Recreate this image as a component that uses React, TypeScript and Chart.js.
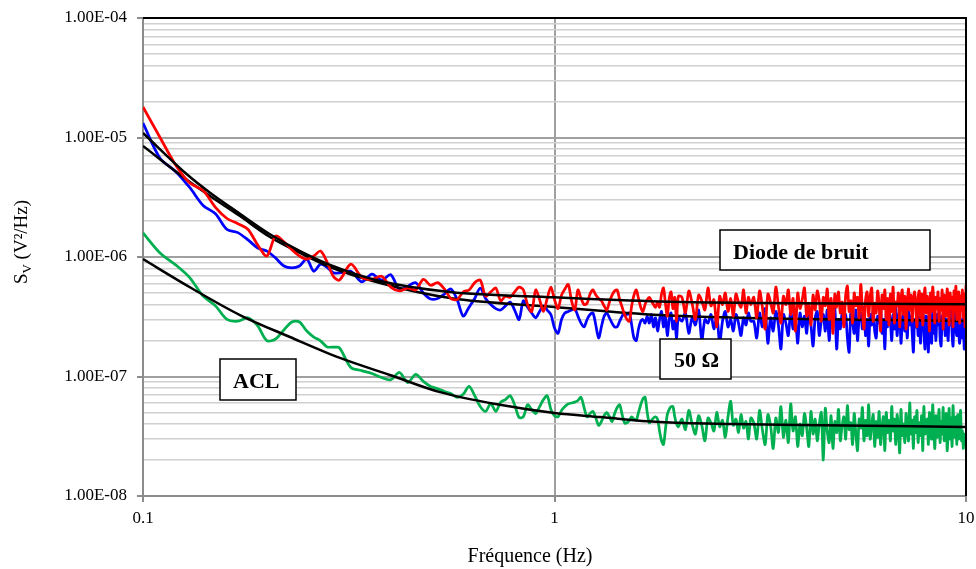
import React, { useEffect, useRef } from 'react';
import { Chart, registerables } from 'chart.js';
Chart.register(...registerables);

// ---- Frequency grid (Hz) ----
const FREQ_A = [0.10,0.11,0.12,0.13,0.14,0.15,0.16,0.17,0.18,0.19,0.20,0.21,0.22,0.23,0.24,0.25,0.26,0.27,0.28,0.29,0.30];
const FREQ_B = [0.32,0.34,0.36,0.38,0.40,0.42,0.44,0.46,0.48,0.50,0.52,0.54,0.56,0.58,0.60,0.62,0.64,0.66,0.68,0.70,
  0.72,0.74,0.76,0.78,0.80,0.82,0.84,0.86,0.88,0.90,0.92,0.94,0.96,0.98,1.00];
const FREQ_C = [1.02,1.04,1.06,1.08,1.10,1.12,1.14,1.16,1.18,1.20,1.22,1.24,1.26,1.28,1.30,1.32,1.34,1.36,1.38,1.40,
  1.42,1.44,1.46,1.48,1.50,1.52,1.54,1.56,1.58,1.60,1.62,1.64,1.66,1.68,1.70,1.72,1.74,1.76,1.78,1.80,
  1.82,1.84,1.86,1.88,1.90,1.92,1.94,1.96,1.98,2.00,
  2.04,2.08,2.12,2.16,2.20,2.24,2.28,2.32,2.36,2.40,2.44,2.48,2.52,2.56,2.60,
  2.64,2.68,2.72,2.76,2.80,2.84,2.88,2.92,2.96,3.00];
const FREQ_D = [3.05,3.10,3.15,3.20,3.25,3.30,3.35,3.40,3.45,3.50,
  3.55,3.60,3.65,3.70,3.75,3.80,3.85,3.90,3.95,4.00,
  4.05,4.10,4.15,4.20,4.25,4.30,4.35,4.40,4.45,4.50,
  4.55,4.60,4.65,4.70,4.75,4.80,4.85,4.90,4.95,5.00,
  5.05,5.10,5.15,5.20,5.25,5.30,5.35,5.40,5.45,5.50,
  5.55,5.60,5.65,5.70,5.75,5.80,5.85,5.90,5.95,6.00,
  6.05,6.10,6.15,6.20,6.25,6.30,6.35,6.40,6.45,6.50,
  6.55,6.60,6.65,6.70,6.75,6.80,6.85,6.90,6.95,7.00,
  7.05,7.10,7.15,7.20,7.25,7.30,7.35,7.40,7.45,7.50,
  7.55,7.60,7.65,7.70,7.75,7.80,7.85,7.90,7.95,8.00,
  8.05,8.10,8.15,8.20,8.25,8.30,8.35,8.40,8.45,8.50,
  8.55,8.60,8.65,8.70,8.75,8.80,8.85,8.90,8.95,9.00,
  9.05,9.10,9.15,9.20,9.25,9.30,9.35,9.40,9.45,9.50,
  9.55,9.60,9.65,9.70,9.75,9.80,9.85,9.90,9.95,10.00];

// ---- Diode de bruit (red), units 1e-7 V²/Hz ----
const RED_A = [180,100,59,41.6,36,26,21,19,17,12.6,10.2,15,13.4,11.5,10.2,9.6,10.2,11.2,9.1,6.9,6.4];
const RED_B = [8.7,6.8,6.5,6.9,5.6,5.2,5.5,5.3,6.5,5.8,6.1,5.4,4.5,4.4,5.1,5.3,6.1,6.4,4.7,5.1,
  5.5,4.3,4.7,4.6,5.1,5.6,5.3,4.0,3.5,5.3,4.4,3.5,4.5,5.6,4.4];
const RED_C = [3.7,4.8,5.4,5.9,4.3,3.6,5.3,4.5,4.0,4.1,4.9,5.3,4.8,4.5,4.3,3.9,3.6,4.2,4.8,5.2,
  5.3,4.4,3.8,3.3,3.0,2.9,3.9,4.8,5.3,4.5,3.8,3.5,4.0,4.4,4.6,4.3,4.0,3.8,4.2,3.8,
  4.9,5.5,4.1,3.2,4.5,5.1,3.7,4.6,2.9,4.7,
  4.6,3.4,5.2,4.1,3.0,4.8,4.3,3.6,5.5,3.9,4.4,2.6,4.7,4.0,5.0,
  3.5,4.5,3.2,4.9,4.2,3.8,5.3,3.4,4.6,4.0];
const RED_D = [4.6,3.1,5.2,3.8,2.5,4.9,4.2,3.4,5.6,3.9,
  2.8,4.7,4.0,5.3,3.3,4.5,2.4,5.0,3.7,4.4,
  5.5,3.2,4.1,2.7,4.8,3.6,5.2,4.3,2.9,4.6,
  3.9,5.4,3.0,4.5,2.3,4.9,3.8,5.1,3.4,4.2,
  2.6,4.8,5.7,3.5,4.3,2.8,5.0,3.9,4.6,3.1,
  5.9,3.6,2.5,4.4,5.1,3.2,4.7,5.5,2.9,4.1,
  3.4,5.2,4.0,2.4,4.8,3.7,5.3,3.0,4.5,2.7,
  4.9,3.5,5.6,2.8,4.2,3.9,5.0,2.6,4.4,5.3,
  3.3,4.7,2.5,4.1,5.4,3.6,4.8,2.9,4.3,5.1,
  3.8,2.6,4.6,5.2,3.1,4.9,2.7,4.4,5.5,3.4,
  4.7,3.9,2.4,5.0,3.5,5.6,4.2,2.8,4.6,3.7,
  5.1,2.9,4.5,3.6,5.3,2.5,4.8,4.0,3.2,5.4,
  4.3,2.7,5.0,3.8,4.6,2.6,5.2,3.5,5.7,3.0,
  4.4,5.1,2.8,4.7,3.6,5.3,3.1,4.9,2.6,5.8];

// ---- 50 Ω (blue), units 1e-7 V²/Hz ----
const BLUE_A = [132,67,52,38,27,23,17,16,13.9,11.9,11.2,9.8,8.4,8.1,8.4,9.6,7.6,8.7,8.2,7.4,7.35];
const BLUE_B = [7.6,6.2,7.2,6.4,7.1,5.3,5.7,6.1,5.0,4.45,4.5,4.9,5.4,4.4,3.2,3.8,4.5,5.5,4.5,4.0,
  3.7,3.6,3.9,4.2,3.6,3.0,4.3,3.8,3.4,3.1,3.5,3.9,3.6,3.3,2.55];
const BLUE_C = [2.3,3.0,3.4,3.5,3.6,3.7,3.2,2.8,2.6,3.0,3.3,3.4,2.7,2.1,2.6,3.2,3.4,3.1,2.8,2.6,
  2.6,2.9,3.2,3.4,3.3,3.4,2.7,2.1,2.0,2.5,2.9,3.0,2.8,3.2,2.8,3.3,2.6,3.1,2.4,3.0,
  3.5,2.6,3.2,2.2,3.0,3.4,2.5,2.9,2.1,3.1,
  2.9,3.4,2.3,3.1,2.7,3.6,2.0,3.0,2.8,3.3,2.5,3.2,1.9,2.9,3.5,
  2.6,3.0,2.4,3.3,2.8,2.2,3.1,2.7,3.4,2.9];
const BLUE_D = [2.9,2.1,3.4,2.6,3.7,1.9,3.1,2.4,3.5,2.7,
  1.7,3.3,2.8,2.2,3.6,2.5,3.0,1.9,3.4,2.6,
  3.2,2.3,3.8,2.7,1.8,3.1,3.5,2.2,2.9,3.3,
  2.4,3.6,2.0,3.2,2.8,3.7,1.7,3.0,2.5,3.4,
  2.7,3.3,2.1,1.6,3.5,2.9,2.3,3.6,2.0,3.1,
  3.4,2.5,3.8,2.2,3.0,1.8,3.3,2.7,3.6,2.4,
  2.1,3.2,2.8,3.7,2.3,3.0,1.7,3.4,2.6,3.5,
  2.9,2.0,3.3,2.5,3.8,2.2,3.1,3.5,1.9,2.8,
  3.3,2.4,3.0,2.1,3.6,2.7,3.2,2.3,1.6,3.0,
  2.6,3.5,2.2,3.1,1.9,2.9,3.7,2.4,1.7,3.2,
  3.0,1.6,3.4,2.6,1.9,3.5,2.3,3.1,2.0,3.3,
  2.7,3.6,2.1,1.8,3.2,2.5,3.4,2.2,3.0,2.6,
  2.0,3.3,2.7,3.6,2.3,1.8,3.1,3.4,2.5,2.2,
  3.2,2.4,1.9,3.0,2.6,2.1,3.5,1.7,1.8,2.2];

// ---- ACL (green), units 1e-8 V²/Hz ----
const GREEN_A = [159,108,86,67,47,39,30,29,31,26.5,20,20.6,24.5,28.6,28.6,24,21.4,19.9,17.7,17.6,17.4];
const GREEN_B = [11.9,11.2,10.6,9.8,9.4,10.8,8.9,10.4,9.1,8.25,7.9,7.5,7.2,6.7,7.1,8.25,6.9,5.6,5.1,5.95,
  5.1,6.1,6.4,6.9,5.8,4.55,4.6,5.8,5.3,4.9,5.6,6.4,6.9,5.3,4.7];
const GREEN_C = [4.6,5.2,5.6,5.9,6.0,6.1,6.3,6.7,5.5,4.6,4.9,5.1,4.5,3.9,4.2,4.7,5.0,4.6,4.2,4.9,
  5.5,5.8,4.8,4.1,4.1,4.3,4.6,4.4,4.3,5.0,5.8,6.5,6.7,5.0,4.1,4.3,4.5,4.6,4.4,3.5,
  2.9,2.7,3.6,4.8,5.3,5.6,5.6,4.6,4.0,3.8,
  4.4,3.6,5.2,4.0,3.3,4.7,3.9,2.9,4.5,4.1,3.5,5.0,3.8,4.3,3.1,
  4.6,6.2,3.9,4.4,3.4,4.8,3.7,4.2,3.0,4.5];
const GREEN_D = [4.1,3.0,5.2,3.6,2.7,4.8,3.9,2.5,4.5,3.4,
  5.6,3.1,4.3,2.8,5.9,3.5,4.6,2.6,4.0,3.2,
  4.9,3.7,2.6,5.1,3.3,4.4,2.9,4.0,5.0,2.0,
  5.4,3.5,2.8,4.7,2.5,4.2,3.4,5.3,2.9,3.9,
  4.6,3.0,5.7,3.6,4.1,2.7,4.9,3.3,2.4,4.4,
  3.7,5.5,2.9,4.3,3.2,5.8,3.0,3.9,4.8,2.6,
  4.2,3.1,5.1,2.7,3.8,4.6,2.4,5.0,3.4,4.3,
  2.9,5.6,3.5,4.4,2.7,4.8,3.6,2.3,5.3,3.2,
  4.0,2.8,4.9,3.7,2.9,6.0,3.3,4.3,2.5,4.6,
  3.4,5.2,2.8,4.1,3.2,4.7,2.4,5.6,3.3,3.9,
  4.4,2.7,5.0,3.6,3.0,5.8,3.5,2.5,4.7,3.1,
  3.8,5.3,2.8,4.2,3.3,5.5,2.9,3.6,4.9,2.4,
  3.4,5.4,3.0,4.5,2.6,5.7,3.5,3.1,4.6,2.7,
  4.8,3.0,3.7,5.2,2.9,3.5,2.5,3.3,2.7,2.8];

// ---- Fitted curves (black) ----
const FIT_F = [0.1,0.128,0.1455,0.172,0.2035,0.2408,0.2848,0.3767,0.557,1.0,1.8,3.95,10];
const FIT_DIODE = [1.09e-5,4.9e-6,3.45e-6,2.3e-6,1.55e-6,1.12e-6,8.6e-7,6.3e-7,5.1e-7,4.6e-7,4.25e-7,4.1e-7,4.03e-7];
const FIT_50 = [8.5e-6,4.41e-6,3.24e-6,2.2e-6,1.47e-6,1.08e-6,8.25e-7,6.06e-7,4.54e-7,3.82e-7,3.27e-7,3.03e-7,2.92e-7];
const FIT_ACL_F = [0.1,0.131,0.172,0.2276,0.301,0.398,0.527,0.737,1.0,1.29,1.8,2.72,3.95,10];
const FIT_ACL = [9.6e-7,5.5e-7,3.27e-7,2.14e-7,1.43e-7,1.03e-7,7.4e-8,5.8e-8,4.95e-8,4.58e-8,4.16e-8,4.0e-8,3.93e-8,3.78e-8];

// ---- Axes ----
const X_TICKS = [0.1, 1, 10];
const X_TICK_LABELS = ['0.1', '1', '10'];
const Y_DECADES = [1e-8, 1e-7, 1e-6, 1e-5, 1e-4];
const Y_TICK_LABELS = ['1.00E-08', '1.00E-07', '1.00E-06', '1.00E-05', '1.00E-04'];
const Y_MINOR_MANTISSAS = [2, 3, 4, 5, 6, 7, 8, 9];

const LABELS = [
  { text: 'Diode de bruit', box: [720, 230, 210, 40], tx: 733, ty: 259 },
  { text: '50 \u03A9', box: [660, 339, 71, 40], tx: 674, ty: 367 },
  { text: 'ACL', box: [220, 359, 76, 41], tx: 233, ty: 388 },
];

const FREQ = [...FREQ_A, ...FREQ_B, ...FREQ_C, ...FREQ_D];
const RED = [...RED_A, ...RED_B, ...RED_C, ...RED_D];
const BLUE = [...BLUE_A, ...BLUE_B, ...BLUE_C, ...BLUE_D];
const GREEN = [...GREEN_A, ...GREEN_B, ...GREEN_C, ...GREEN_D];

const toPts = (xs: number[], ys: number[], scale: number) => {
  const n = Math.min(xs.length, ys.length);
  const out: { x: number; y: number }[] = [];
  for (let i = 0; i < n; i++) out.push({ x: xs[i], y: ys[i] * scale });
  return out;
};

const isDecade = (v: number) => {
  const l = Math.log10(v);
  return Math.abs(l - Math.round(l)) < 1e-6;
};

const SERIF = '"Liberation Serif", "Times New Roman", serif';

const overlayPlugin = {
  id: 'overlay',
  afterDraw(chart: any) {
    const { ctx, chartArea: a } = chart;
    ctx.save();
    ctx.strokeStyle = '#000';
    ctx.lineWidth = 2;
    ctx.beginPath();
    ctx.moveTo(a.left, a.top);
    ctx.lineTo(a.right, a.top);
    ctx.lineTo(a.right, a.bottom);
    ctx.stroke();

    ctx.font = `bold 22px ${SERIF}`;
    ctx.textBaseline = 'alphabetic';
    ctx.textAlign = 'left';
    for (const l of LABELS) {
      const [bx, by, bw, bh] = l.box;
      ctx.fillStyle = '#fff';
      ctx.fillRect(bx, by, bw, bh);
      ctx.strokeStyle = '#000';
      ctx.lineWidth = 1.5;
      ctx.strokeRect(bx, by, bw, bh);
      ctx.fillStyle = '#000';
      ctx.fillText(l.text, l.tx, l.ty);
    }

    ctx.font = `20px ${SERIF}`;
    ctx.textAlign = 'center';
    ctx.textBaseline = 'middle';
    ctx.fillStyle = '#000';
    ctx.fillText('Fréquence (Hz)', 530, 557);

    ctx.translate(27, 242);
    ctx.rotate(-Math.PI / 2);
    ctx.textAlign = 'left';
    ctx.textBaseline = 'alphabetic';
    const big = `19px ${SERIF}`;
    const small = `13px ${SERIF}`;
    ctx.font = big;
    const wS = ctx.measureText('S').width;
    const rest = ' (V\u00B2/Hz)';
    const wR = ctx.measureText(rest).width;
    ctx.font = small;
    const wV = ctx.measureText('V').width;
    let x = -(wS + wV + wR) / 2;
    ctx.font = big;
    ctx.fillText('S', x, 0);
    x += wS;
    ctx.font = small;
    ctx.fillText('V', x, 4);
    x += wV;
    ctx.font = big;
    ctx.fillText(rest, x, 0);
    ctx.restore();
  },
};

export default function App() {
  const ref = useRef<HTMLCanvasElement | null>(null);

  useEffect(() => {
    document.body.style.margin = '0';
    const canvas = ref.current;
    if (!canvas) return;

    const yGrid: number[] = [];
    for (let d = 0; d < Y_DECADES.length; d++) {
      yGrid.push(Y_DECADES[d]);
      if (d < Y_DECADES.length - 1) for (const m of Y_MINOR_MANTISSAS) yGrid.push(m * Y_DECADES[d]);
    }

    const noisy = { pointRadius: 0, borderWidth: 2.75, tension: 0.3 };
    const fit = { pointRadius: 0, borderWidth: 2.5, borderColor: '#000', cubicInterpolationMode: 'monotone' };

    const chart = new Chart(canvas, {
      type: 'line',
      data: {
        datasets: [
          { label: 'fit diode', data: toPts(FIT_F, FIT_DIODE, 1), ...fit, order: 1 },
          { label: 'Diode de bruit', data: toPts(FREQ, RED, 1e-7), borderColor: '#FF0000', ...noisy, order: 2 },
          { label: 'fit 50', data: toPts(FIT_F, FIT_50, 1), ...fit, order: 3 },
          { label: '50 Ω', data: toPts(FREQ, BLUE, 1e-7), borderColor: '#0000FF', ...noisy, order: 4 },
          { label: 'fit ACL', data: toPts(FIT_ACL_F, FIT_ACL, 1), ...fit, order: 5 },
          { label: 'ACL', data: toPts(FREQ, GREEN, 1e-8), borderColor: '#00B050', ...noisy, order: 6 },
        ] as any,
      },
      options: {
        animation: false,
        responsive: false,
        devicePixelRatio: 1,
        events: [],
        parsing: false as any,
        layout: { padding: { left: 0, right: 10, top: 18, bottom: 0 } },
        plugins: { legend: { display: false }, tooltip: { enabled: false }, title: { display: false } },
        scales: {
          x: {
            type: 'logarithmic',
            min: 0.1,
            max: 10,
            afterBuildTicks: (s: any) => { s.ticks = X_TICKS.map((v) => ({ value: v, major: true })); },
            afterFit: (s: any) => { s.height = 73; s.paddingLeft = 0; s.paddingRight = 0; },
            ticks: {
              autoSkip: false, maxRotation: 0, minRotation: 0, padding: 6, color: '#000',
              font: { family: SERIF, size: 17 },
              callback: (_v: any, i: number) => X_TICK_LABELS[i] ?? '',
            },
            grid: {
              color: (c: any) => (c.tick && c.tick.value === 1 ? '#a0a0a0' : 'rgba(0,0,0,0)'),
              lineWidth: 2,
              tickColor: '#8c8c8c',
              tickLength: 6,
            },
            border: { color: '#8c8c8c', width: 2 },
          } as any,
          y: {
            type: 'logarithmic',
            min: 1e-8,
            max: 1e-4,
            afterBuildTicks: (s: any) => { s.ticks = yGrid.map((v) => ({ value: v, major: isDecade(v) })); },
            afterFit: (s: any) => { s.width = 143; s.paddingTop = 0; s.paddingBottom = 0; },
            ticks: {
              autoSkip: false, padding: 10, color: '#000',
              font: { family: SERIF, size: 17 },
              callback: (v: any) => {
                if (!isDecade(v)) return '';
                const idx = Y_DECADES.findIndex((d) => Math.abs(Math.log10(d) - Math.log10(v)) < 1e-6);
                return idx >= 0 ? Y_TICK_LABELS[idx] : '';
              },
            },
            grid: {
              color: (c: any) => (c.tick && isDecade(c.tick.value) ? '#a0a0a0' : '#d0d0d0'),
              lineWidth: (c: any) => (c.tick && isDecade(c.tick.value) ? 2 : 1.5),
              tickColor: (c: any) => (c.tick && isDecade(c.tick.value) ? '#8c8c8c' : 'rgba(0,0,0,0)'),
              tickLength: 6,
            },
            border: { color: '#8c8c8c', width: 2 },
          } as any,
        },
      },
      plugins: [overlayPlugin],
    });

    return () => chart.destroy();
  }, []);

  return (
    <div style={{ width: 976, height: 569, background: '#fff' }}>
      <canvas ref={ref} width={976} height={569} style={{ display: 'block', width: 976, height: 569 }} />
    </div>
  );
}
